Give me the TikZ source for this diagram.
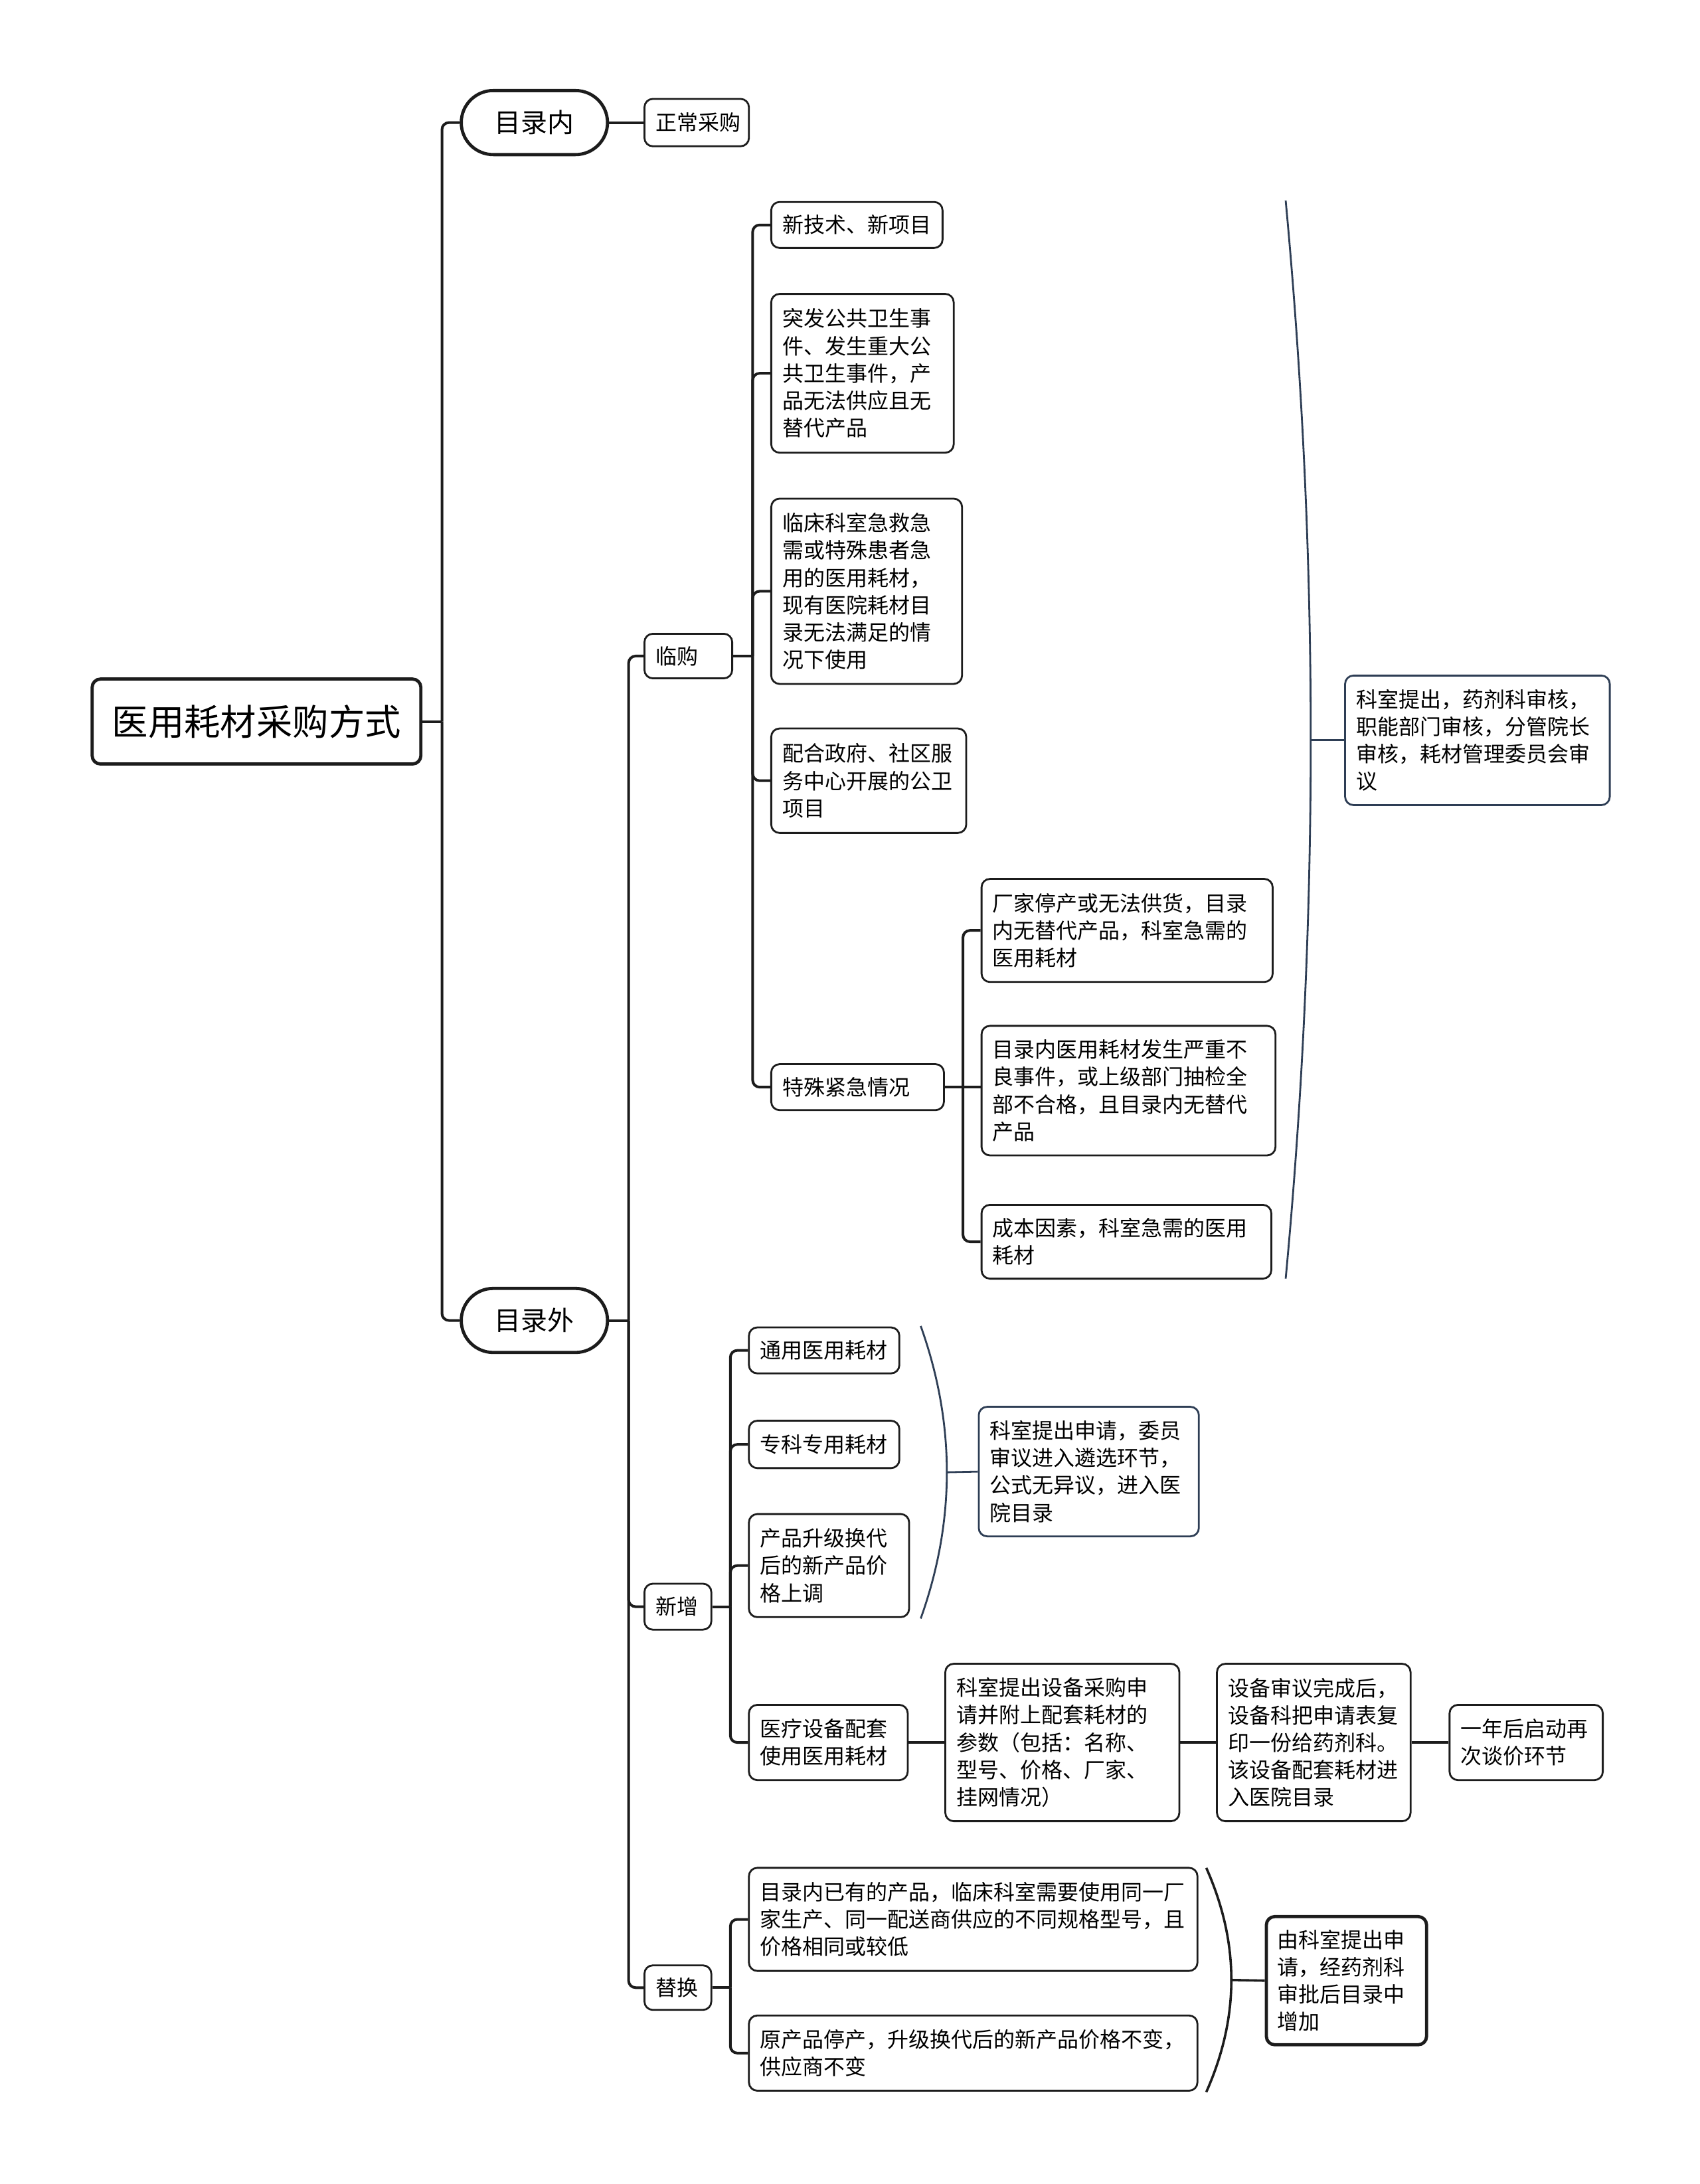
\documentclass[tikz,border=0pt]{standalone}
\usepackage{fontspec}
\setmainfont{Noto Sans CJK SC}
\usetikzlibrary{calc, positioning}

\definecolor{ink}{HTML}{1C1C1C}
\definecolor{navy}{HTML}{2E3E55}
\newlength{\pxu}
\setlength{\pxu}{0.5246pt}

\begin{document}
\begin{tikzpicture}[
        x=\pxu, y=-\pxu,
        main/.style={draw=ink, line width=1.2pt, rounded corners=6\pxu, font=\fontsize{13.6}{16}\selectfont, minimum width=236\pxu, minimum height=61\pxu, inner sep=0pt, anchor=west},
        topic/.style={draw=ink, line width=1.2pt, rounded corners=23\pxu, font=\fontsize{10}{12}\selectfont, minimum width=105\pxu, minimum height=46\pxu, inner sep=0pt, anchor=west},
        item/.style={draw=ink, line width=0.7pt, rounded corners=6\pxu, font=\fontsize{8}{10.3}\selectfont, align=left, inner xsep=8\pxu, inner ysep=0pt, anchor=west},
        note/.style={item, draw=navy},
        link/.style={draw=ink, line width=1pt, rounded corners=5\pxu},
        brace/.style={draw=navy, line width=0.7pt},
        ]
    \useasboundingbox (0,0) rectangle (1220,1568);

    % root and first level
    \node (root) at (65,518) [main] {医用耗材采购方式};
    \node (in) at (330,88) [topic] {目录内};
    \node (out) at (330,948) [topic] {目录外};
    \node (normal) at (462,88) [item, text width=59\pxu, minimum height=34\pxu] {正常采购};

    \coordinate (j0) at ($(root.east)+(14,0)$);
    \draw [link] (root.east) -- (j0);
    \draw [link] (in.west) -| (j0);
    \draw [link] (out.west) -| (j0);
    \draw [link] (in.east) -- (normal.west);

    \node (lg) at (462,471) [item, text width=47\pxu, minimum height=32\pxu] {临购};
    \node (xz) at (462,1153.5) [item, text width=32\pxu, minimum height=33\pxu] {新增};
    \node (th) at (462,1427) [item, text width=32\pxu, minimum height=32\pxu] {替换};

    \coordinate (j1) at ($(out.east)+(14,0)$);
    \draw [link] (out.east) -- (j1);
    \foreach \n in {lg, xz, th}
        \draw [link] (\n.west) -| (j1);

    % lin gou
    \node (lg1) at (553,161.5) [item, text width=107\pxu, minimum height=33\pxu] {新技术、新项目};
    \node (lg2) at (553,268) [item, text width=115\pxu, minimum height=114\pxu] {突发公共卫生事\\件、发生重大公\\共卫生事件，产\\品无法供应且无\\替代产品};
    \node (lg3) at (553,424.5) [item, text width=121\pxu, minimum height=133\pxu] {临床科室急救急\\需或特殊患者急\\用的医用耗材，\\现有医院耗材目\\录无法满足的情\\况下使用};
    \node (lg4) at (553,560.5) [item, text width=124\pxu, minimum height=75\pxu] {配合政府、社区服\\务中心开展的公卫\\项目};
    \node (lg5) at (553,780.5) [item, text width=108\pxu, minimum height=33\pxu] {特殊紧急情况};

    \coordinate (j2) at ($(lg.east)+(14,0)$);
    \draw [link] (lg.east) -- (j2);
    \foreach \n in {lg1, lg2, lg3, lg4, lg5}
        \draw [link] (\n.west) -| (j2);

    \node (tj1) at (704,668) [item, text width=193\pxu, minimum height=74\pxu] {厂家停产或无法供货，目录\\内无替代产品，科室急需的\\医用耗材};
    \node (tj2) at (704,783) [item, text width=195\pxu, minimum height=93\pxu] {目录内医用耗材发生严重不\\良事件，或上级部门抽检全\\部不合格，且目录内无替代\\产品};
    \node (tj3) at (704,891.5) [item, text width=192\pxu, minimum height=53\pxu] {成本因素，科室急需的医用\\耗材};

    \coordinate (j3) at ($(lg5.east)+(13,0)$);
    \draw [link] (lg5.east) -- (j3);
    \draw [link] (tj1.west) -| (j3);
    \draw [link] (tj3.west) -| (j3);
    \draw [link] (j3) -- (j3 -| tj2.west);

    \node (sum1) at (965,531.5) [note, text width=174\pxu, minimum height=93\pxu] {科室提出，药剂科审核，\\职能部门审核，分管院长\\审核，耗材管理委员会审\\议};
    \coordinate (b1t) at (923,144);
    \coordinate (b1b) at (923,918);
    \coordinate (b1m) at (941,531.5);
    \draw [brace] (b1t) .. controls (947,400) and (947,662) .. (b1b);
    \draw [brace] (b1m) -- (sum1.west);

    % xin zeng
    \node (xz1) at (537,969.5) [item, text width=92\pxu, minimum height=33\pxu] {通用医用耗材};
    \node (xz2) at (537,1037) [item, text width=92\pxu, minimum height=34\pxu] {专科专用耗材};
    \node (xz3) at (537,1124) [item, text width=99\pxu, minimum height=74\pxu] {产品升级换代\\后的新产品价\\格上调};
    \node (xz4) at (537,1251) [item, text width=98\pxu, minimum height=54\pxu] {医疗设备配套\\使用医用耗材};

    \coordinate (j4) at ($(xz.east)+(13,0)$);
    \draw [link] (xz.east) -- (j4);
    \foreach \n in {xz1, xz2, xz3, xz4}
        \draw [link] (\n.west) -| (j4);

    \node (eq1) at (678,1251) [item, text width=152\pxu, minimum height=113\pxu] {科室提出设备采购申\\请并附上配套耗材的\\参数（包括：名称、\\型号、价格、厂家、\\挂网情况）};
    \node (eq2) at (873,1251) [item, text width=123\pxu, minimum height=113\pxu] {设备审议完成后，\\设备科把申请表复\\印一份给药剂科。\\该设备配套耗材进\\入医院目录};
    \node (eq3) at (1040,1251) [item, text width=94\pxu, minimum height=54\pxu] {一年后启动再\\次谈价环节};
    \draw [link] (xz4.east) -- (eq1.west);
    \draw [link] (eq1.east) -- (eq2.west);
    \draw [link] (eq2.east) -- (eq3.west);

    \node (sum2) at (702,1056.5) [note, text width=142\pxu, minimum height=93\pxu] {科室提出申请，委员\\审议进入遴选环节，\\公式无异议，进入医\\院目录};
    \coordinate (b2t) at (661,952);
    \coordinate (b2b) at (661,1162);
    \coordinate (b2m) at (680,1057);
    \draw [brace] (b2t) .. controls (686,1022) and (686,1092) .. (b2b);
    \draw [brace] (b2m) -- (sum2.west);

    % ti huan
    \node (th1) at (537,1378) [item, text width=306\pxu, minimum height=74\pxu] {目录内已有的产品，临床科室需要使用同一厂\\家生产、同一配送商供应的不同规格型号，且\\价格相同或较低};
    \node (th2) at (537,1474) [item, text width=306\pxu, minimum height=54\pxu] {原产品停产，升级换代后的新产品价格不变，\\供应商不变};

    \coordinate (j5) at ($(th.east)+(13,0)$);
    \draw [link] (th.east) -- (j5);
    \foreach \n in {th1, th2}
        \draw [link] (\n.west) -| (j5);

    \node (sum3) at (908,1422) [item, line width=1.2pt, text width=99\pxu, minimum height=92\pxu] {由科室提出申\\请，经药剂科\\审批后目录中\\增加};
    \coordinate (b3t) at (866,1341);
    \coordinate (b3b) at (866,1502);
    \coordinate (b3m) at (884,1421.5);
    \draw [brace, draw=ink, line width=0.9pt] (b3t) .. controls (890,1395) and (890,1448) .. (b3b);
    \draw [brace, draw=ink, line width=0.9pt] (b3m) -- (sum3.west);
\end{tikzpicture}
\end{document}
